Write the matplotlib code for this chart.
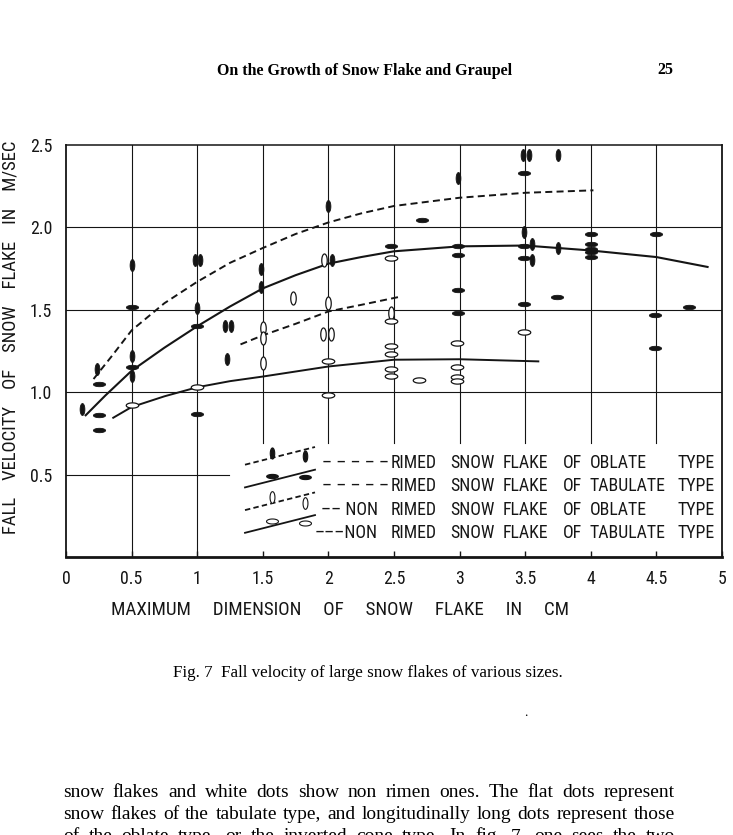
import numpy as np
import matplotlib
matplotlib.use("Agg")
import matplotlib.pyplot as plt
from matplotlib.path import Path
from matplotlib.lines import Line2D
from matplotlib.legend_handler import HandlerBase
from matplotlib import font_manager
from matplotlib.font_manager import FontProperties

# ---------------- data ----------------
# rimed snow flakes, oblate type (black, vertically long dots)
ro_x = [0.12, 0.24, 0.50, 0.50, 0.50, 0.985, 1.02, 1.00, 1.21, 1.26, 1.23, 1.49, 1.49,
        2.00, 2.03, 2.99, 3.48, 3.53, 3.75, 3.49, 3.55, 3.55, 3.75]
ro_y = [0.90, 1.14, 1.77, 1.22, 1.10, 1.80, 1.80, 1.51, 1.40, 1.40, 1.20, 1.75, 1.64,
        2.13, 1.80, 2.30, 2.44, 2.44, 2.44, 1.97, 1.90, 1.805, 1.875]
# rimed snow flakes, tabulate type (black, flat dots)
rt_x = [0.25, 0.25, 0.25, 0.50, 0.50, 1.00, 1.00, 2.48, 2.71, 2.99, 2.99, 2.99, 2.99,
        3.49, 3.49, 3.49, 3.49, 3.74, 4.00, 4.00, 4.00, 4.00, 4.00, 4.50, 4.49, 4.49, 4.75]
rt_y = [1.05, 0.86, 0.77, 1.52, 1.15, 1.40, 0.87, 1.89, 2.045, 1.89, 1.835, 1.62, 1.48,
        2.33, 1.89, 1.815, 1.535, 1.58, 1.96, 1.90, 1.87, 1.85, 1.82, 1.96, 1.47, 1.27, 1.52]
# non rimed snow flakes, oblate type (white, vertically long dots)
no_x = [1.50, 1.50, 1.50, 1.73, 1.97, 2.00, 1.96, 2.02, 2.48]
no_y = [1.39, 1.33, 1.18, 1.57, 1.80, 1.54, 1.355, 1.355, 1.48]
# non rimed snow flakes, tabulate type (white, flat dots)
nt_x = [0.50, 1.00, 2.00, 2.00, 2.48, 2.48, 2.48, 2.48, 2.48, 2.48, 2.69,
        2.98, 2.98, 2.98, 2.98, 3.49]
nt_y = [0.925, 1.03, 1.19, 0.985, 1.815, 1.43, 1.28, 1.23, 1.14, 1.10, 1.077,
        1.30, 1.15, 1.09, 1.07, 1.365]

# hand-drawn mean curves
ro_curve_x = [0.21, 0.35, 0.50, 0.75, 1.00, 1.25, 1.50, 1.75, 2.00, 2.25, 2.50, 3.00, 3.50, 4.02]
ro_curve_y = [1.08, 1.22, 1.375, 1.54, 1.67, 1.785, 1.875, 1.96, 2.03, 2.085, 2.13, 2.18, 2.21, 2.225]
rt_curve_x = [0.15, 0.30, 0.50, 0.75, 1.00, 1.25, 1.50, 1.75, 2.00, 2.25, 2.50, 3.00, 3.50, 4.00, 4.50, 4.89]
rt_curve_y = [0.86, 0.98, 1.13, 1.27, 1.40, 1.52, 1.63, 1.71, 1.78, 1.82, 1.855, 1.885, 1.89, 1.86, 1.82, 1.76]
no_curve_x = [1.33, 1.50, 1.75, 2.00, 2.25, 2.55]
no_curve_y = [1.29, 1.345, 1.415, 1.49, 1.53, 1.58]
nt_curve_x = [0.36, 0.50, 0.75, 1.00, 1.25, 1.50, 2.00, 2.50, 3.00, 3.60]
nt_curve_y = [0.845, 0.91, 0.975, 1.03, 1.067, 1.095, 1.156, 1.197, 1.20, 1.187]

x_ticks = [0, 0.5, 1, 1.5, 2, 2.5, 3, 3.5, 4, 4.5, 5]
x_tick_labels = ["0", "0.5", "1", "1.5", "2", "2.5", "3", "3.5", "4", "4.5", "5"]
y_ticks = [0.5, 1.0, 1.5, 2.0, 2.5]
y_tick_labels = ["0.5", "1.0", "1.5", "2.0", "2.5"]

xlabel_words = ["MAXIMUM", "DIMENSION", "OF", "SNOW", "FLAKE", "IN", "CM"]
ylabel_words = ["FALL", "VELOCITY", "OF", "SNOW", "FLAKE", "IN", "M/SEC"]

legend_prefix = ["\u2013 \u2013 \u2013 \u2013 \u2013", "\u2013 \u2013 \u2013 \u2013 \u2013",
                 "\u2013\u2013 NON", "\u2013\u2013\u2013NON"]
legend_words = [["RIMED", "SNOW", "FLAKE", "OF", "OBLATE", "TYPE"],
                ["RIMED", "SNOW", "FLAKE", "OF", "TABULATE", "TYPE"],
                ["RIMED", "SNOW", "FLAKE", "OF", "OBLATE", "TYPE"],
                ["RIMED", "SNOW", "FLAKE", "OF", "TABULATE", "TYPE"]]

header_text = "On the Growth of Snow Flake and Graupel"
page_number = "25"
caption_text = "Fig. 7  Fall velocity of large snow flakes of various sizes."
body_lines = [
    "snow flakes and white dots show non rimen ones.  The flat dots represent",
    "snow flakes of the tabulate type, and longitudinally long dots represent those",
    "of the oblate type, or the inverted cone type.  In fig. 7, one sees the two",
]

# ---------------- fonts ----------------
COND = ("condensed", "semi-condensed", "extra-condensed", "ultra-condensed")
narrow = None
for f in font_manager.fontManager.ttflist:
    nm = f.name
    if "Serif" in nm or "Mono" in nm:
        continue
    if (str(f.stretch) in COND or "Narrow" in nm or "Condensed" in nm) \
            and f.style == "normal" and f.weight in (400, "normal", "regular", "book"):
        narrow = f.fname
        if "Liberation" in nm:
            break
if narrow is not None:
    K = 1.0
    def SFP(size):
        return FontProperties(fname=narrow, size=size)
else:
    K = 0.88
    def SFP(size):
        return FontProperties(family="Liberation Sans", size=size)
SERIF = "Liberation Serif"
INK = "#151515"

# ---------------- figure ----------------
W, H = 733, 835
fig = plt.figure(figsize=(W / 100, H / 100), dpi=100)
fig.patch.set_facecolor("white")
ax = fig.add_axes([66 / W, 1 - 557 / H, 656 / W, 412 / H])
ax.set_xlim(0, 5)
ax.set_ylim(0, 2.5)

# grid (partly interrupted by the legend area, as in the original)
for y in y_ticks[1:-1]:
    ax.axhline(y, color=INK, lw=0.8, zorder=1)
ax.axhline(y_ticks[0], xmax=0.248, color=INK, lw=0.8, zorder=1)
for x in x_ticks[1:-1]:
    if x <= 1:
        ax.axvline(x, color=INK, lw=0.8, zorder=1)
    else:
        ax.axvline(x, ymin=0.277, color=INK, lw=0.8, zorder=1)

for side, lw in [("left", 1.3), ("right", 1.3), ("top", 1.1), ("bottom", 2.0)]:
    ax.spines[side].set_linewidth(lw)
    ax.spines[side].set_color(INK)

# marker shapes: long (oblate) and flat (tabulate) dots
t = np.linspace(0, 2 * np.pi, 49)
codes = [Path.MOVETO] + [Path.LINETO] * 47 + [Path.CLOSEPOLY]
V_ELL = Path(np.c_[0.40 * np.cos(t), np.sin(t)], codes)
H_ELL = Path(np.c_[np.cos(t), 0.36 * np.sin(t)], codes)
V_ELL_W = Path(np.c_[0.42 * np.cos(t), np.sin(t)], codes)
H_ELL_W = Path(np.c_[np.cos(t), 0.42 * np.sin(t)], codes)

DASH = (0, (3.6, 2.2))
ax.plot(ro_curve_x, ro_curve_y, color=INK, lw=1.4, ls=DASH, zorder=2)
ax.plot(rt_curve_x, rt_curve_y, color=INK, lw=1.5, zorder=2)
ax.plot(no_curve_x, no_curve_y, color=INK, lw=1.4, ls=DASH, zorder=2)
ax.plot(nt_curve_x, nt_curve_y, color=INK, lw=1.4, zorder=2)

ax.plot(ro_x, ro_y, ls="none", marker=V_ELL, ms=8.6, mfc=INK, mec=INK, mew=0.6, zorder=3)
ax.plot(rt_x, rt_y, ls="none", marker=H_ELL, ms=8.8, mfc=INK, mec=INK, mew=0.6, zorder=3)
ax.plot(no_x, no_y, ls="none", marker=V_ELL_W, ms=9.4, mfc="white", mec=INK, mew=0.9, zorder=3)
ax.plot(nt_x, nt_y, ls="none", marker=H_ELL_W, ms=9.0, mfc="white", mec=INK, mew=0.9, zorder=3)

# ticks
ax.set_xticks(x_ticks, x_tick_labels)
ax.set_yticks(y_ticks, y_tick_labels)
ax.tick_params(axis="x", direction="in", length=4, width=1, pad=9, colors=INK)
ax.tick_params(axis="y", length=0, pad=10, colors=INK)
for lab in ax.get_xticklabels() + ax.get_yticklabels():
    lab.set_fontproperties(SFP(12.8 * K))

# axis labels
ax.set_xlabel("     ".join(xlabel_words), fontproperties=SFP(13.7 * K), color=INK)
ax.xaxis.set_label_coords((340 - 66) / 656, (557 - 610) / 412)
ax.xaxis.label.set_va("center")
ax.set_ylabel("    ".join(ylabel_words), fontproperties=SFP(13.4 * K), color=INK)
ax.yaxis.set_label_coords((11 - 66) / 656, (557 - 337) / 412)
ax.yaxis.label.set_va("center")
ax.yaxis.label.set_ha("center")


# legend with slanted sample strokes
class SlantHandler(HandlerBase):
    def __init__(self, dash, path, face, size, offsets):
        super().__init__()
        self.dash, self.path, self.face = dash, path, face
        self.size, self.offsets = size, offsets

    def create_artists(self, legend, orig_handle, xdescent, ydescent, width,
                       height, fontsize, trans):
        x0, y0 = -xdescent, -ydescent
        seg = Line2D([x0, x0 + width], [y0, y0 + height], color=INK, lw=1.3,
                     linestyle=self.dash)
        fr = [0.38, 0.86]
        mx = [x0 + f * width for f in fr]
        my = [y0 + (f + o) * height for f, o in zip(fr, self.offsets)]
        dots = Line2D(mx, my, ls="none", marker=self.path, ms=self.size,
                      mfc=self.face, mec=INK, mew=0.8)
        seg.set_transform(trans)
        dots.set_transform(trans)
        return [seg, dots]


proxies = [Line2D([], []) for _ in range(4)]
hmap = {
    proxies[0]: SlantHandler((0, (3.0, 1.8)), V_ELL, INK, 8.0, (0.30, -0.36)),
    proxies[1]: SlantHandler("-", H_ELL, INK, 8.4, (0.26, -0.30)),
    proxies[2]: SlantHandler((0, (3.0, 1.8)), V_ELL_W, "white", 8.4, (0.34, -0.45)),
    proxies[3]: SlantHandler("-", H_ELL_W, "white", 8.6, (0.28, -0.28)),
}
fs = 10
pxpt = 100 / 72
ax.legend(proxies, [""] * 4, handler_map=hmap, loc="upper left",
          bbox_to_anchor=((245 - 66) / 656, (557 - 447) / 412),
          frameon=False, borderpad=0, borderaxespad=0, fontsize=fs,
          handlelength=70 / (fs * pxpt), handleheight=22 / (fs * pxpt),
          labelspacing=5 / (fs * pxpt), handletextpad=0)

col_px = [391, 450, 503, 563, 590, 678]
for i, (pre, words) in enumerate(zip(legend_prefix, legend_words)):
    yy = (557 - (463 + i * 23.4)) / 412
    pre_end = 389 if i < 2 else 378
    ax.text((pre_end - 66) / 656, yy, pre, transform=ax.transAxes, ha="right",
            va="center", fontproperties=SFP(12.8 * K), color=INK)
    for w, cx in zip(words, col_px):
        ax.text((cx - 66) / 656, yy, w, transform=ax.transAxes, ha="left",
                va="center", fontproperties=SFP(12.8 * K), color=INK)

# ---------------- page text ----------------
renderer = fig.canvas.get_renderer()


def fitted(xpx, ypx, s, target_w, size0, **kw):
    tt = fig.text(xpx / W, 1 - ypx / H, s, fontsize=size0, color="black", **kw)
    wpx = tt.get_window_extent(renderer).width
    tt.set_fontsize(size0 * target_w / wpx)
    return tt


hdr = fitted(365, 75, header_text, 294, 12, family=SERIF, weight="bold",
             ha="center", va="baseline")
fig.text(665 / W, 1 - 74 / H, page_number, fontsize=hdr.get_fontsize(),
         family=SERIF, weight="bold", ha="center", va="baseline")
fitted(368, 677, caption_text, 389, 10, family=SERIF, ha="center", va="baseline")
fig.text(526 / W, 1 - 715 / H, "\u2022", fontsize=4, ha="center", va="center")

# body text, justified between x=63 and x=675
probe = fig.text(0, 0, body_lines[1], fontsize=12, family=SERIF)
bsize = 12 * 596 / probe.get_window_extent(renderer).width
probe.remove()
for i, line in enumerate(body_lines):
    words = line.split()
    ypx = 797 + i * 22
    arts, widths = [], []
    for w in words:
        a = fig.text(0, 1 - ypx / H, w, fontsize=bsize, family=SERIF,
                     ha="left", va="baseline", color="black")
        arts.append(a)
        widths.append(a.get_window_extent(renderer).width)
    gap = (675 - 63 - sum(widths)) / (len(words) - 1)
    xcur = 63
    for a, wd in zip(arts, widths):
        a.set_x(xcur / W)
        xcur += wd + gap

fig.savefig("out.png", dpi=100, facecolor="white")
